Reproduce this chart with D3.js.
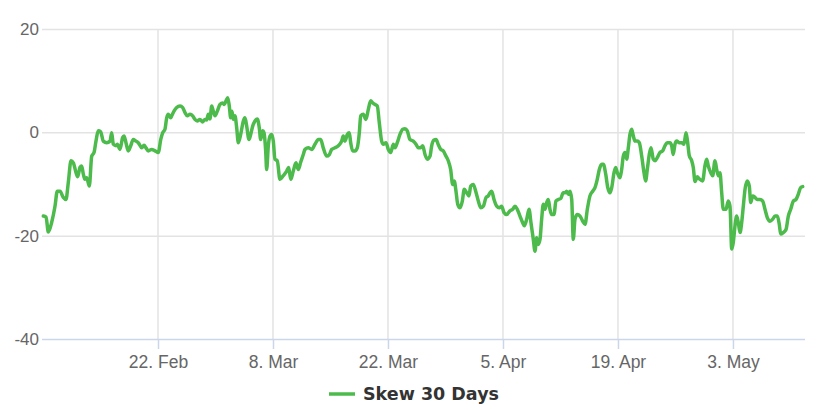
<!DOCTYPE html>
<html>
<head>
<meta charset="utf-8">
<script src="https://cdn.jsdelivr.net/npm/d3@7"></script>
<style>
  html, body { margin: 0; padding: 0; background: #ffffff; }
  svg { display: block; font-family: "DejaVu Sans", "Lucida Grande", Arial, sans-serif; }
</style>
</head>
<body>
<svg id="chart" width="827" height="410"></svg>
<script>
// ---- data ----
const startDate = "2021-02-08T00:00:00Z";
// day offsets from startDate
const days = [
  0.04,0.37,0.65,1.06,1.46,1.74,2.07,2.47,2.80,3.08,3.41,3.69,4.02,4.22,4.50,4.71,4.91,5.11,5.32,5.64,
  5.93,6.21,6.45,6.73,7.02,7.34,7.76,8.16,8.36,8.56,8.89,9.05,9.37,9.70,9.86,10.10,10.38,10.68,10.99,11.32,
  11.60,12.02,12.30,12.54,12.82,13.23,13.64,14.04,14.33,14.57,14.85,15.06,15.25,15.55,15.67,15.95,16.28,16.68,17.01,17.29,
  17.57,17.90,18.22,18.50,18.78,19.11,19.44,19.72,19.93,20.12,20.33,20.54,20.73,20.94,21.22,21.55,21.88,22.07,22.28,22.49,
  22.68,22.85,23.01,23.17,23.37,23.58,23.78,24.07,24.39,24.59,24.80,25.08,25.29,25.53,25.81,26.09,26.33,26.50,26.75,26.91,
  27.11,27.23,27.43,27.64,27.84,28.04,28.24,28.52,28.85,29.25,29.67,29.91,30.16,30.47,30.80,31.08,31.37,31.69,31.90,32.30,
  32.72,33.11,33.52,33.81,34.12,34.54,34.86,35.15,35.55,35.95,36.36,36.56,36.77,37.05,37.29,37.46,37.70,37.98,38.26,38.51,
  38.68,38.99,39.32,39.60,39.90,40.14,40.42,40.70,40.94,41.23,41.43,41.76,42.04,42.33,42.65,42.85,43.13,43.46,43.79,44.07,
  44.35,44.68,45.08,45.41,45.69,45.98,46.23,46.51,46.79,47.12,47.32,47.60,47.85,48.13,48.42,48.73,49.06,49.34,49.63,49.88,
  50.07,50.28,50.49,50.77,51.05,51.29,51.58,51.86,52.07,52.39,52.68,53.00,53.29,53.61,53.94,54.21,54.42,54.63,54.91,55.24,
  55.55,55.84,56.12,56.45,56.85,57.18,57.46,57.74,58.07,58.40,58.60,58.89,59.17,59.41,59.69,59.90,60.10,60.30,60.51,60.71,
  60.91,61.12,61.32,61.52,61.72,61.93,62.21,62.45,62.73,63.03,63.34,63.55,63.75,63.95,64.16,64.37,64.56,64.77,65.05,65.38,
  65.71,65.99,66.27,66.59,66.92,67.20,67.48,67.73,68.02,68.22,68.51,68.76,69.03,69.24,69.52,69.72,69.92,70.25,70.45,70.65,
  70.86,71.06,71.26,71.46,71.67,71.87,72.07,72.35,72.60,72.89,73.17,73.37,73.57,73.81,74.02,74.30,74.51,74.79,75.12,75.44,
  75.72,76.00,76.33,76.54,76.73,76.94,77.15,77.47,77.76,78.04,78.28,78.44,78.68,78.98,79.17,79.38,79.66,79.90,80.31,80.59,
  80.80,81.00,81.29,81.53,81.81,82.02,82.22,82.42,82.63,82.82,83.15,83.43,83.64,83.85,84.04,84.25,84.45,84.65,84.86,85.06,
  85.26,85.47,85.75,85.99,86.16,86.41,86.68,86.96,87.29,87.62,87.90,88.18,88.51,88.84,89.12,89.40,89.64,89.81,90.13,90.46,
  90.74,91.03,91.35,91.67,91.95,92.24,92.49
];
const skew = [
  -16.2,-16.4,-19.3,-17.4,-14.3,-11.4,-11.4,-12.6,-13.0,-9.7,-5.5,-5.9,-7.8,-8.6,-6.8,-6.5,-8.1,-9.1,-8.8,-10.4,
  -4.6,-3.9,-1.7,0.3,0.1,-1.7,-2.0,-1.7,-0.1,-2.3,-2.6,-2.3,-3.3,-1.0,-0.7,-2.0,-3.6,-2.6,-1.4,-1.7,
  -2.0,-3.0,-2.5,-3.0,-3.6,-3.3,-3.6,-3.9,-1.4,-0.1,0.6,2.8,3.5,2.8,3.2,4.1,4.8,5.1,4.8,3.8,
  3.2,3.5,3.2,2.5,2.2,2.5,2.0,2.5,2.4,3.5,2.6,5.1,4.1,3.2,4.1,5.4,5.7,5.4,6.1,6.7,
  5.1,2.8,4.1,2.5,3.2,0.9,-2.0,-0.4,2.2,2.8,1.2,-1.4,-0.4,1.2,2.2,2.6,0.9,-1.4,0.3,-0.1,
  -3.6,-7.2,-2.6,-0.7,-0.4,-1.7,-5.2,-5.5,-9.1,-8.4,-7.5,-6.8,-9.1,-7.5,-5.9,-7.2,-5.8,-4.3,-3.3,-3.0,
  -3.3,-2.3,-1.4,-1.4,-3.0,-4.6,-4.3,-3.3,-3.0,-2.6,-1.7,-0.7,-1.7,-0.4,-0.1,-2.0,-3.6,-3.6,-3.0,-0.1,
  3.2,3.5,2.5,4.4,6.1,5.7,5.4,5.1,1.9,-1.7,-2.3,-2.0,-3.3,-3.9,-2.3,-3.0,-2.0,-0.4,0.6,0.7,
  0.3,-1.4,-1.7,-2.3,-3.0,-3.0,-2.6,-4.3,-5.2,-4.6,-2.6,-1.5,-1.4,-2.4,-3.3,-3.6,-4.6,-5.5,-7.2,-10.1,
  -9.4,-11.4,-13.9,-14.6,-13.3,-11.0,-11.7,-12.3,-10.4,-10.1,-11.4,-13.3,-14.6,-14.3,-12.6,-12.3,-11.7,-11.4,-13.0,-14.3,
  -14.6,-14.3,-15.5,-15.9,-15.2,-14.9,-14.3,-14.9,-16.2,-17.5,-18.1,-16.8,-14.9,-17.5,-20.7,-23.0,-20.4,-21.7,-20.7,-16.8,
  -13.9,-14.9,-13.6,-13.0,-14.9,-15.9,-15.9,-13.3,-13.0,-12.8,-11.7,-11.7,-11.4,-12.0,-11.4,-13.0,-20.7,-16.8,-15.9,-16.2,
  -17.2,-17.8,-14.9,-12.3,-11.4,-10.7,-9.1,-7.2,-6.2,-6.2,-8.1,-10.7,-11.7,-10.7,-7.8,-6.8,-7.8,-8.8,-7.2,-4.6,
  -3.9,-5.2,-3.0,-0.4,0.6,-0.7,-1.7,-1.7,-2.0,-4.6,-7.8,-9.4,-7.2,-4.3,-3.0,-5.2,-5.5,-4.9,-3.9,-3.6,
  -2.6,-2.0,-2.0,-2.6,-4.3,-2.3,-1.7,-2.0,-2.0,-2.3,-0.1,-1.4,-4.5,-5.5,-6.8,-9.5,-8.6,-9.0,-9.4,-6.5,
  -5.2,-6.5,-7.8,-8.4,-5.5,-7.2,-8.4,-7.8,-11.7,-14.9,-14.9,-13.3,-14.3,-22.6,-21.3,-18.1,-16.2,-17.5,-19.4,-17.5,
  -14.3,-11.0,-9.4,-10.4,-13.6,-12.3,-12.6,-13.0,-13.0,-13.3,-14.9,-16.5,-17.2,-16.8,-16.2,-16.2,-17.8,-19.7,-19.4,-18.8,
  -16.2,-14.9,-13.3,-13.0,-12.0,-10.7,-10.5
];
const xDomain = ["2021-02-08T00:00:00Z", "2021-05-11T18:30:00Z"];
const xTickDates = ["2021-02-22","2021-03-08","2021-03-22","2021-04-05","2021-04-19","2021-05-03"];
const yTicks = [-40, -20, 0, 20];
const seriesName = "Skew 30 Days";
const lineColor = "#4cbb4c";

// ---- layout ----
const svg = d3.select("#chart");
const plot = { left: 43, right: 805, top: 29, bottom: 339 };

const x = d3.scaleUtc()
  .domain(xDomain.map(s => new Date(s)))
  .range([plot.left, plot.right]);
const y = d3.scaleLinear()
  .domain([-40, 20])
  .range([plot.bottom, plot.top]);

const t0 = new Date(startDate).getTime();
const data = days.map((d, i) => ({ date: new Date(t0 + d * 864e5), value: skew[i] }));

// horizontal grid
const yAxis = d3.axisLeft(y).tickValues(yTicks)
  .tickFormat(d => String(d))
  .tickSize(-(plot.right - plot.left + 1)).tickPadding(5);
const gy = svg.append("g").attr("transform", `translate(${plot.left - 1},0)`).call(yAxis);
gy.select(".domain").remove();
gy.selectAll(".tick line").attr("stroke", "#e3e3e3").attr("stroke-width", 1.5);
gy.selectAll(".tick").filter(d => d === -40).select("line").attr("stroke", "none");
gy.selectAll(".tick text")
  .attr("fill", "#666666").style("font-size", "17px").attr("x", -3);

// vertical grid
const tickDates = xTickDates.map(s => new Date(s + "T00:00:00Z"));
svg.append("g").selectAll("line").data(tickDates).join("line")
  .attr("x1", d => x(d)).attr("x2", d => x(d))
  .attr("y1", plot.top).attr("y2", plot.bottom)
  .attr("stroke", "#e3e3e3").attr("stroke-width", 1.5);

// x axis
const xAxis = d3.axisBottom(x).tickValues(tickDates)
  .tickFormat(d3.utcFormat("%-d. %b")).tickSize(10).tickPadding(7);
const gx = svg.append("g").attr("transform", `translate(0,${plot.bottom})`).call(xAxis);
gx.select(".domain").attr("d", `M${plot.left - 1},0.5H${plot.right}`).attr("stroke", "#ccd6eb").attr("stroke-width", 1.5);
gx.selectAll(".tick line").attr("stroke", "#ccd6eb").attr("stroke-width", 1.5);
gx.selectAll(".tick text").attr("fill", "#666666").style("font-size", "17.5px");

// line
const line = d3.line()
  .x(d => x(d.date))
  .y(d => y(d.value))
  .curve(d3.curveMonotoneX);
svg.append("path").datum(data)
  .attr("d", line)
  .attr("fill", "none")
  .attr("stroke", lineColor)
  .attr("stroke-width", 3.5)
  .attr("stroke-linejoin", "round")
  .attr("stroke-linecap", "round");

// legend
const legend = svg.append("g").attr("transform", "translate(329,394)");
legend.append("line").attr("x1", 0).attr("x2", 26).attr("y1", 0).attr("y2", 0)
  .attr("stroke", lineColor).attr("stroke-width", 3.5);
legend.append("text").attr("x", 34).attr("y", 0).attr("dy", "0.35em")
  .attr("fill", "#333333").style("font-size", "17.5px").style("font-weight", "bold")
  .text(seriesName);
</script>
</body>
</html>
